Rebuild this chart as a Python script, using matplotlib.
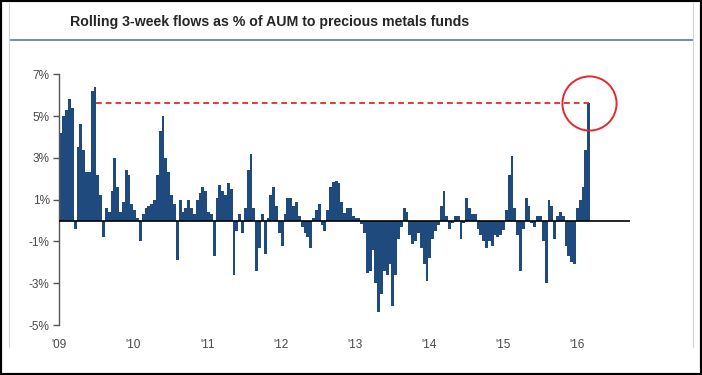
import matplotlib
matplotlib.use("Agg")
import matplotlib.pyplot as plt
from matplotlib.lines import Line2D
from matplotlib.patches import Rectangle
import pandas as pd
import numpy as np

# rolling 3-week flows, % of AUM, read at two-week steps
y2009 = [4.2, 5.0, 5.3, 5.8, 5.4, -0.4, 3.5, 4.6, 3.4, 2.3, 2.3, 6.2, 6.4,
         2.2, 1.2, -0.8, 0.6, 0.4, 1.4, 3.0, 1.6, 0.4, 0.9, 2.4, 2.2, 0.8]
y2010 = [0.5, 0.1, -1.0, 0.3, 0.6, 0.7, 0.8, 1.0, 2.2, 4.3, 5.0, 3.0, 2.3,
         1.2, 0.8, -1.9, 1.0, 0.4, 0.6, 1.0, 0.6, 0.3, 1.0, 1.3, 1.6, 1.4]
y2011 = [0.4, 0.3, -1.7, 1.1, 1.7, 1.4, 1.2, 1.8, 1.5, -2.6, -0.5, 0.3, -0.6,
         0.6, 2.4, 3.2, 0.6, -2.4, -1.3, 0.3, -1.6, 0.1, 1.2, 1.6, 0.7, -0.6]
y2012 = [-1.2, 0.3, 1.1, 1.1, 0.7, 0.9, 0.2, -0.3, -0.6, -0.8, -1.3, 0.1, 0.5,
         0.8, -0.2, -0.5, 0.5, 1.6, 1.85, 1.9, 1.8, 0.9, 0.35, 0.6, 0.6, 0.2]
y2013 = [0.1, 0.1, -0.15, -0.6, -2.5, -2.4, -1.4, -3.0, -4.4, -3.5, -2.4, -2.6, -2.1,
         -4.1, -2.6, -0.9, -0.3, 0.6, 0.4, -0.7, -1.1, -1.0, -0.6, -1.3, -2.1, -2.9]
y2014 = [-1.8, -0.9, -0.5, -0.2, 0.7, 1.4, 0.2, -0.4, -0.1, 0.2, 0.2, -0.9, -0.1,
         1.1, 0.6, 0.3, 0.3, -0.4, -0.7, -1.0, -1.3, -1.0, -1.2, -0.7, -0.8, -0.7]
y2015 = [-0.45, 0.5, 2.2, 3.1, 0.6, -0.7, -2.4, -0.4, 1.1, 0.7, -0.1, -0.3, 0.2,
         0.2, -1.0, -3.0, 1.0, 0.7, -0.9, 0.2, 0.4, 0.2, -1.2, -1.7, -2.0, -2.1]
y2016 = [0.6, 1.0, 1.6, 3.4, 5.63]

flows = y2009 + y2010 + y2011 + y2012 + y2013 + y2014 + y2015 + y2016
dates = pd.date_range("2009-01-02", periods=len(flows), freq="14D")

yticks = [-5, -3, -1, 1, 3, 5, 7]
ytick_labels = ["-5%", "-3%", "-1%", "1%", "3%", "5%", "7%"]
years = list(range(2009, 2017))
year_labels = ["'09", "'10", "'11", "'12", "'13", "'14", "'15", "'16"]

title = "Rolling 3-week flows as % of AUM to precious metals funds"

bar_col = "#1f4a7d"
red = "#e8262b"
txt_col = "#474747"

plt.rcParams["font.family"] = ["Liberation Sans", "DejaVu Sans"]

fig = plt.figure(figsize=(7.02, 3.75), dpi=100)
ax = fig.add_axes([59.3 / 702, 1 - 325 / 375, (630 - 59.3) / 702, (325 - 74.3) / 375])

ax.bar(dates, flows, width=14, align="edge", color=bar_col, linewidth=0)
ax.axhline(0, color="black", lw=1.2, zorder=3)

# dashed marker at the latest reading, from the end of the 2009 peak
peak_i = int(np.argmax(y2009))
x_start = dates[peak_i] + pd.Timedelta(days=14)
x_end = dates[-1] + pd.Timedelta(days=7)
ax.plot([x_start, x_end], [flows[-1], flows[-1]], color=red, lw=1.3,
        dashes=(3.2, 2.2), zorder=4)
ax.plot([x_end], [flows[-1]], marker="o", ms=39, mfc="none", mec=red,
        mew=1.4, zorder=5, clip_on=False)

ax.set_xlim(pd.Timestamp("2009-01-01"), pd.Timestamp("2016-09-17"))
ax.set_ylim(-5, 7)
ax.set_yticks(yticks)
ax.set_yticklabels(ytick_labels)
ax.set_xticks([pd.Timestamp(f"{y}-01-01") for y in years])
ax.set_xticklabels(year_labels)

for s in ["top", "right", "bottom"]:
    ax.spines[s].set_visible(False)
ax.spines["left"].set_color("#555555")
ax.spines["left"].set_linewidth(1.0)
ax.tick_params(axis="y", direction="out", length=4, width=1.0, color="#555555",
               labelsize=8.5, labelcolor=txt_col, pad=3)
ax.tick_params(axis="x", length=0, labelsize=8.5, labelcolor=txt_col, pad=10)

fig.text(70 / 702, 1 - 22 / 375, title, fontsize=10.2, fontweight="bold",
         color="#262626", ha="left", va="center")
fig.add_artist(Line2D([11 / 702, 692 / 702], [1 - 39.5 / 375, 1 - 39.5 / 375],
                      color="#7d8fa3", lw=1.5, transform=fig.transFigure))

# frame: thin grey side rules and black outer border
for xp in [8.5, 693]:
    fig.add_artist(Line2D([xp / 702, xp / 702], [1 - 3 / 375, 1 - 347 / 375],
                          color="#d3d3d3", lw=0.8, transform=fig.transFigure))
fig.add_artist(Rectangle((0.0, 0.0), 1.0, 1.0, transform=fig.transFigure,
                         fill=False, edgecolor="black", lw=3))

fig.savefig("out.png", dpi=100)
